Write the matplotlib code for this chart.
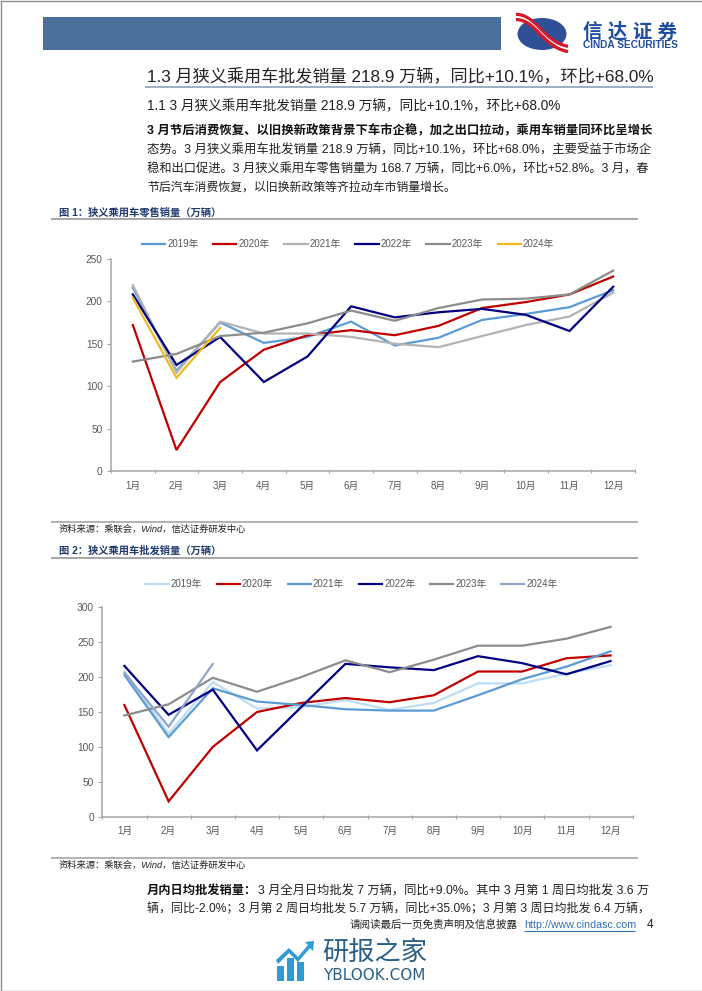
# plot.py
import matplotlib
matplotlib.use("Agg")
import matplotlib.pyplot as plt
from matplotlib.patches import Ellipse, Rectangle, Polygon, PathPatch
from matplotlib.path import Path

plt.rcParams['font.family'] = ['Liberation Sans', 'Noto Sans CJK SC', 'DejaVu Sans']

W, H = 702, 991

months = ['1月', '2月', '3月', '4月', '5月', '6月', '7月', '8月', '9月', '10月', '11月', '12月']
years = ['2019年', '2020年', '2021年', '2022年', '2023年', '2024年']

# 图1 零售
retail_2019 = [216, 118, 175, 151, 158, 176, 148, 157, 178, 185, 193, 213]
retail_2020 = [172, 25, 105, 143, 160, 166, 160, 171, 192, 199, 208, 229]
retail_2021 = [219, 116, 176, 162, 162, 158, 150, 146, 159, 172, 182, 210]
retail_2022 = [208, 125, 158, 105, 135, 194, 181, 187, 191, 184, 165, 217]
retail_2023 = [129, 138, 159, 163, 174, 189, 177, 192, 202, 203, 208, 236]
retail_2024 = [204, 110, 168.7]

# 图2 批发
whole_2019 = [208, 119, 193, 155, 157, 167, 153, 163, 191, 191, 205, 217]
whole_2020 = [160, 22, 100, 150, 163, 170, 164, 174, 208, 208, 227, 231]
whole_2021 = [203, 114, 184, 165, 160, 154, 152, 152, 174, 197, 215, 237]
whole_2022 = [216, 146, 182, 95, 157, 219, 214, 210, 230, 220, 204, 223]
whole_2023 = [145, 161, 199, 179, 200, 224, 207, 225, 245, 245, 255, 272]
whole_2024 = [206, 129, 218.9]

retail_colors = ['#5b9bd5', '#c00000', '#b3b3b3', '#000080', '#8c8c8c', '#f2b81f']
whole_colors = ['#bddcf5', '#c00000', '#5b9bd5', '#000080', '#8c8c8c', '#8fa6cc']

body = [
    '态势。3 月狭义乘用车批发销量 218.9 万辆，同比+10.1%，环比+68.0%，主要受益于市场企',
    '稳和出口促进。3 月狭义乘用车零售销量为 168.7 万辆，同比+6.0%，环比+52.8%。3 月，春',
]

fig = plt.figure(figsize=(W / 100, H / 100), dpi=100)
bg = fig.add_axes([0, 0, 1, 1], zorder=0)
bg.set_xlim(0, W)
bg.set_ylim(H, 0)
bg.axis('off')


def put(x, y, s, size=8, width=None, **kw):
    """写一行字，给了 width 就缩放字号让宽度对上"""
    kw.setdefault('color', '#222222')
    kw.setdefault('va', 'center')
    t = bg.text(x, y, s, fontsize=size, **kw)
    if width:
        r = fig.canvas.get_renderer()
        t.set_fontsize(size * width / t.get_window_extent(r).width)
    return t


def rule(x0, x1, y, color='#a6a6a6', lw=1.4):
    bg.plot([x0, x1], [y, y], color=color, lw=lw, solid_capstyle='butt')


def chart(rect, ymax, ystep, series, colors, leg_y):
    x0, x1, y0, y1 = rect
    ax = fig.add_axes([x0 / W, 1 - y0 / H, (x1 - x0) / W, (y0 - y1) / H], zorder=2)
    ax.patch.set_alpha(0)
    for vals, c, lab in zip(series, colors, years):
        ax.plot(range(len(vals)), vals, color=c, lw=1.6, label=lab, solid_joinstyle='miter')
    ax.set_xlim(-0.5, 11.5)
    ax.set_ylim(0, ymax)
    ax.set_yticks(range(0, ymax + 1, ystep))
    ax.set_xticks([i - 0.5 for i in range(13)])
    ax.set_xticklabels([])
    ax.set_xticks(range(12), months, minor=True)
    ax.tick_params(axis='x', which='major', length=3, direction='inout', color='#a6a6a6', width=0.8)
    ax.tick_params(axis='x', which='minor', length=0, pad=7, labelsize=7, labelcolor='#595959')
    ax.tick_params(axis='y', length=3, color='#a6a6a6', width=0.8, labelsize=7.3,
                   labelcolor='#595959', pad=3)
    for side in ['top', 'right']:
        ax.spines[side].set_visible(False)
    for side in ['left', 'bottom']:
        ax.spines[side].set_color('#a6a6a6')
        ax.spines[side].set_linewidth(1.1)
    ax.legend(loc='center', bbox_to_anchor=(0.5 * (leg_y[0] + leg_y[1]) / W, 1 - leg_y[2] / H),
              bbox_transform=fig.transFigure, ncol=6, frameon=False, fontsize=7,
              labelcolor='#595959', handlelength=2.4, handletextpad=0.2, columnspacing=1.5,
              borderpad=0, borderaxespad=0)
    return ax


# 页面边框
for a, b in [((0.5, 0.5), (W - 0.5, 0.5)), ((0.5, 0.5), (0.5, H - 0.5)), ((0.5, H - 0.5), (W - 0.5, H - 0.5))]:
    bg.plot([a[0], b[0]], [a[1], b[1]], color='#8c8c8c', lw=1)

# 顶部色带和 logo
bg.add_patch(Rectangle((43, 17), 458, 33, color='#4a6f9b', lw=0))
bg.add_patch(Ellipse((542, 34), 49, 32, color='#2f4f96', lw=0))
for off, c, lw in [(-2.6, '#d7182a', 2.4), (0, 'white', 1.0), (2.6, '#d7182a', 2.4)]:
    verts = [(516, 17 + off), (536, 17 + off), (542, 44 + off), (568, 49 + off)]
    bg.add_patch(PathPatch(Path(verts, [Path.MOVETO, Path.CURVE4, Path.CURVE4, Path.CURVE4]),
                           fc='none', ec=c, lw=lw))
put(583, 31.5, '信 达 证 券', size=14, color='#1f4e9c', weight='bold')
put(583, 44.5, 'CINDA SECURITIES', size=6.5, width=95, color='#1f4e9c', weight='bold')

# 标题和正文
put(147, 76, '1.3 月狭义乘用车批发销量 218.9 万辆，同比+10.1%，环比+68.0%', size=12, width=504)
rule(145, 653, 87, color='#8ba0bc', lw=1.2)
put(147, 106.5, '1.1 3 月狭义乘用车批发销量 218.9 万辆，同比+10.1%，环比+68.0%', size=10, width=414)
put(147, 131, '3 月节后消费恢复、以旧换新政策背景下车市企稳，加之出口拉动，乘用车销量同环比呈增长',
    size=9, width=504, weight='bold', color='#111111')
put(147, 150.5, body[0], size=9, width=504)
put(147, 169, body[1], size=9, width=504)
put(147, 188, '节后汽车消费恢复，以旧换新政策等齐拉动车市销量增长。', size=8.6)

# 图1
put(59, 212, '图 1：狭义乘用车零售销量（万辆）', size=7.4, color='#1f3a6e', weight='bold')
rule(51, 638, 219)
chart((111, 635, 471.3, 258.7), 250, 50,
      [retail_2019, retail_2020, retail_2021, retail_2022, retail_2023, retail_2024],
      retail_colors, (144, 552, 244))
rule(51, 638, 522, lw=1.2)
put(59, 529, '资料来源：乘联会，Wind，信达证券研发中心', size=6.6, style='italic', width=188)

# 图2
put(59, 551, '图 2：狭义乘用车批发销量（万辆）', size=7.4, color='#1f3a6e', weight='bold')
rule(51, 638, 558)
chart((102.3, 632.7, 816.7, 607.3), 300, 50,
      [whole_2019, whole_2020, whole_2021, whole_2022, whole_2023, whole_2024],
      whole_colors, (148, 555, 584))
rule(51, 638, 858, lw=1.2)
put(59, 865, '资料来源：乘联会，Wind，信达证券研发中心', size=6.6, style='italic', width=188)

# 底部段落
put(147, 891, '月内日均批发销量：', size=8.8, weight='bold', color='#111111')
put(258, 891, '3 月全月日均批发 7 万辆，同比+9.0%。其中 3 月第 1 周日均批发 3.6 万', size=9, width=393)
put(147, 909, '辆，同比-2.0%；3 月第 2 周日均批发 5.7 万辆，同比+35.0%；3 月第 3 周日均批发 6.4 万辆，',
    size=9, width=502)
put(350, 925, '请阅读最后一页免责声明及信息披露', size=7.6, width=168)
put(524, 925, 'http://www.cindasc.com', size=8, width=111, color='#2e6fb5')
rule(524, 635, 931, color='#2e6fb5', lw=0.8)
put(647, 925, '4', size=8.6)

# 水印
for x, top in [(277, 966), (287, 958), (297, 962)]:
    bg.add_patch(Rectangle((x, top), 7, 981 - top, color='#2e9bd6', lw=0))
bg.add_patch(Polygon([(276, 960), (289, 948), (298, 957), (308, 945), (305, 942), (314, 941),
                      (313, 951), (310, 948), (298, 962), (289, 953), (278, 964)],
                     color='#2e9bd6', lw=0))
put(322, 953, '研报之家', size=17, width=105, color='#2b5f86')
put(323, 976, 'YBLOOK.COM', size=11, width=102, color='#2b5f86', family=['DejaVu Sans'])

fig.savefig('out.png', dpi=100)
